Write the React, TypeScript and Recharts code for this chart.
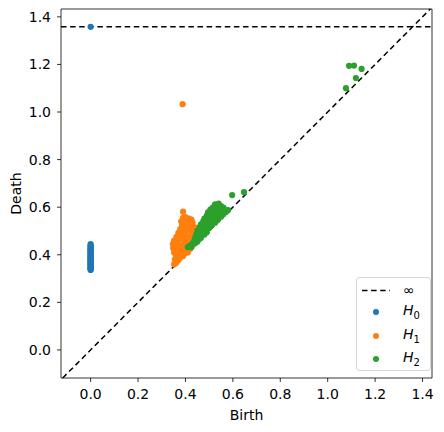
import { ReferenceLine, Scatter, ScatterChart, XAxis, YAxis } from 'recharts'

const BLUE = '#1f77b4'
const ORANGE = '#ff7f0e'
const GREEN = '#2ca02c'

const X_DOMAIN: [number, number] = [-0.125, 1.44]
const Y_DOMAIN: [number, number] = [-0.118, 1.433]
const TICKS = [0, 0.2, 0.4, 0.6, 0.8, 1.0, 1.2, 1.4]
const INF_LEVEL = 1.358

// H0: every class is born at 0
const H0_DEATHS = [
  0.336, 0.339, 0.341, 0.344, 0.347, 0.35, 0.353, 0.357, 0.36, 0.362, 0.366, 0.369, 0.372,
  0.375, 0.379, 0.382, 0.385, 0.388, 0.392, 0.395, 0.398, 0.401, 0.405, 0.408, 0.412, 0.415,
  0.419, 0.423, 0.427, 0.431, 0.436, 0.44, 0.445,
]

const H1_PAIRS: [number, number][] = [
  [0.388, 1.033], [0.39, 0.581],
  [0.39, 0.555], [0.4, 0.558], [0.415, 0.552], [0.425, 0.548], [0.41, 0.54], [0.395, 0.535], [0.43, 0.535], [0.382, 0.54],
  [0.385, 0.522], [0.4, 0.518], [0.42, 0.52], [0.44, 0.515], [0.45, 0.508], [0.46, 0.5],
  [0.378, 0.508], [0.39, 0.502], [0.405, 0.5], [0.425, 0.497], [0.435, 0.49], [0.45, 0.485],
  [0.37, 0.492], [0.385, 0.482], [0.4, 0.478], [0.415, 0.475], [0.43, 0.47], [0.445, 0.468],
  [0.362, 0.475], [0.375, 0.465], [0.395, 0.46], [0.41, 0.455], [0.425, 0.45], [0.44, 0.452],
  [0.352, 0.46], [0.365, 0.448], [0.385, 0.44], [0.4, 0.438], [0.415, 0.432], [0.43, 0.44],
  [0.347, 0.445], [0.358, 0.435], [0.375, 0.425], [0.39, 0.42], [0.405, 0.418], [0.42, 0.425],
  [0.348, 0.428], [0.36, 0.415], [0.37, 0.405], [0.383, 0.402], [0.397, 0.405], [0.41, 0.41],
  [0.352, 0.41], [0.36, 0.395], [0.37, 0.388], [0.38, 0.39], [0.39, 0.395],
  [0.355, 0.38], [0.365, 0.372], [0.372, 0.38], [0.36, 0.365], [0.352, 0.36],
]

const H2_PAIRS: [number, number][] = [
  [0.525, 0.612], [0.54, 0.615], [0.55, 0.605], [0.535, 0.6], [0.515, 0.598], [0.56, 0.598],
  [0.505, 0.59], [0.52, 0.585], [0.545, 0.588], [0.565, 0.59], [0.575, 0.585],
  [0.495, 0.578], [0.51, 0.575], [0.53, 0.572], [0.55, 0.575], [0.57, 0.58], [0.58, 0.588],
  [0.49, 0.565], [0.5, 0.56], [0.52, 0.562], [0.54, 0.565], [0.56, 0.57],
  [0.48, 0.552], [0.495, 0.548], [0.51, 0.55], [0.53, 0.553], [0.55, 0.56],
  [0.475, 0.54], [0.485, 0.535], [0.5, 0.53], [0.52, 0.54], [0.535, 0.545],
  [0.465, 0.528], [0.48, 0.522], [0.495, 0.515], [0.51, 0.525], [0.525, 0.535],
  [0.46, 0.515], [0.47, 0.505], [0.485, 0.5], [0.5, 0.512],
  [0.45, 0.5], [0.46, 0.49], [0.475, 0.488], [0.49, 0.495],
  [0.445, 0.485], [0.455, 0.475], [0.465, 0.478], [0.48, 0.485],
  [0.44, 0.47], [0.445, 0.46], [0.455, 0.463], [0.465, 0.47],
  [0.435, 0.455], [0.44, 0.448], [0.45, 0.455],
  [0.42, 0.44], [0.43, 0.447], [0.41, 0.432], [0.425, 0.432],
  [0.597, 0.651], [0.647, 0.663],
  [1.09, 1.194], [1.111, 1.195], [1.143, 1.181], [1.119, 1.143], [1.077, 1.1],
]

const h0Data = [
  ...H0_DEATHS.map((d) => ({ birth: 0, death: d })),
  { birth: 0, death: INF_LEVEL },
]
const h1Data = H1_PAIRS.map(([b, d]) => ({ birth: b, death: d }))
const h2Data = H2_PAIRS.map(([b, d]) => ({ birth: b, death: d }))

const FONT = '"DejaVu Sans", sans-serif'
const DASH = '5.5 3.6'

function dot(color: string) {
  // eslint-disable-next-line @typescript-eslint/no-explicit-any
  return (props: any) => <circle cx={props.cx} cy={props.cy} r={3.1} fill={color} />
}

function LegendBox() {
  const row = (top: number, children: React.ReactNode) => (
    <div style={{ position: 'absolute', left: 0, top: top - 8, height: 16, width: '100%' }}>
      {children}
    </div>
  )
  const marker = (color: string) => (
    <div
      style={{
        position: 'absolute', left: 16, top: 5, width: 6, height: 6,
        borderRadius: '50%', background: color,
      }}
    />
  )
  const label = (sub: string) => (
    <span style={{ position: 'absolute', left: 46, top: -2, fontSize: 14, lineHeight: '16px' }}>
      <span style={{ fontStyle: 'italic' }}>H</span>
      <sub style={{ fontSize: 10, lineHeight: 0 }}>{sub}</sub>
    </span>
  )
  return (
    <div
      style={{
        position: 'absolute', left: 356, top: 277, width: 75, height: 94,
        border: '1px solid #d6d6d6', borderRadius: 3, background: 'rgba(255,255,255,0.8)',
        fontFamily: FONT, color: '#000', boxSizing: 'border-box',
      }}
    >
      {row(12, (
        <>
          <svg style={{ position: 'absolute', left: 5, top: 7 }} width={28} height={3}>
            <line x1={0} y1={1.5} x2={28} y2={1.5} stroke="#000" strokeWidth={1.5} strokeDasharray={DASH} />
          </svg>
          <span style={{ position: 'absolute', left: 46, top: 0, fontSize: 14, lineHeight: '16px' }}>∞</span>
        </>
      ))}
      {row(34, <>{marker(BLUE)}{label('0')}</>)}
      {row(58, <>{marker(ORANGE)}{label('1')}</>)}
      {row(81, <>{marker(GREEN)}{label('2')}</>)}
    </div>
  )
}

export default function App() {
  const tickStyle = { fill: '#000', fontSize: 14, fontFamily: FONT }
  return (
    <div style={{ position: 'absolute', left: 0, top: 0, width: 444, height: 432, background: '#fff' }}>
      <ScatterChart width={444} height={432} margin={{ top: 9, right: 12, bottom: 0, left: 0 }}>
        <XAxis
          type="number"
          dataKey="birth"
          domain={X_DOMAIN}
          ticks={TICKS}
          allowDataOverflow
          tickFormatter={(v: number) => v.toFixed(1)}
          height={54}
          tick={tickStyle}
          tickSize={4}
          tickMargin={7}
          stroke="#000"
          strokeWidth={0.8}
          label={{ value: 'Birth', position: 'insideBottom', offset: 12, fill: '#000', fontSize: 14, fontFamily: FONT }}
        />
        <YAxis
          type="number"
          dataKey="death"
          domain={Y_DOMAIN}
          ticks={TICKS}
          allowDataOverflow
          tickFormatter={(v: number) => v.toFixed(1)}
          width={61}
          tick={tickStyle}
          tickSize={4}
          tickMargin={6}
          stroke="#000"
          strokeWidth={0.8}
          label={{
            value: 'Death', angle: -90, position: 'insideLeft', offset: 16,
            fill: '#000', fontSize: 14, fontFamily: FONT, style: { textAnchor: 'middle' },
          }}
        />
        <Scatter name="H0" data={h0Data} fill={BLUE} shape={dot(BLUE)} isAnimationActive={false} />
        <Scatter name="H1" data={h1Data} fill={ORANGE} shape={dot(ORANGE)} isAnimationActive={false} />
        <Scatter name="H2" data={h2Data} fill={GREEN} shape={dot(GREEN)} isAnimationActive={false} />
        <ReferenceLine
          segment={[{ x: Y_DOMAIN[0], y: Y_DOMAIN[0] }, { x: Y_DOMAIN[1], y: Y_DOMAIN[1] }]}
          stroke="#000"
          strokeWidth={1.5}
          strokeDasharray={DASH}
        />
        <ReferenceLine y={INF_LEVEL} stroke="#000" strokeWidth={1.5} strokeDasharray={DASH} />
        {/* top and right spines */}
        <ReferenceLine y={Y_DOMAIN[1]} stroke="#000" strokeWidth={0.8} />
        <ReferenceLine x={X_DOMAIN[1]} stroke="#000" strokeWidth={0.8} />
      </ScatterChart>
      <LegendBox />
    </div>
  )
}
